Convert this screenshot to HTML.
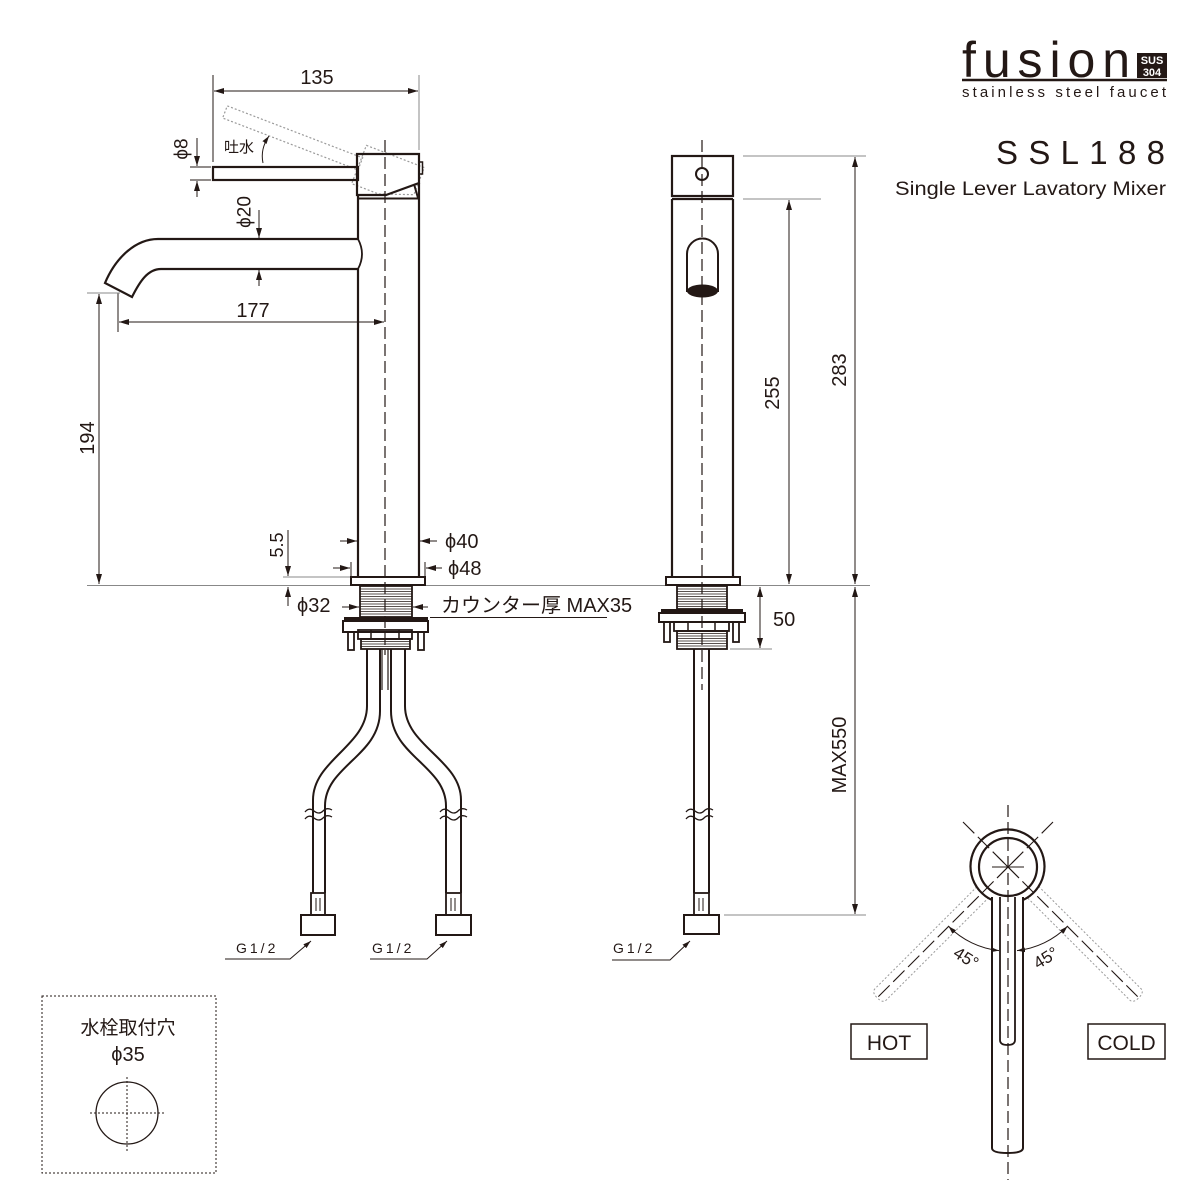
<!DOCTYPE html>
<html><head><meta charset="utf-8"><style>
html,body{margin:0;padding:0;background:#fff;}
svg{display:block;}
text{font-family:"Liberation Sans","Noto Sans CJK JP",sans-serif;fill:#231815;}
</style></head><body>
<svg width="1200" height="1200" viewBox="0 0 1200 1200" xmlns="http://www.w3.org/2000/svg">
<defs>
<marker id="ar" viewBox="0 0 10 6" refX="10" refY="3" markerWidth="10" markerHeight="6" markerUnits="userSpaceOnUse" orient="auto-start-reverse"><path d="M0,0 L10,3 L0,6 z" fill="#231815"/></marker>
<marker id="as" viewBox="0 0 8 5" refX="8" refY="2.5" markerWidth="8" markerHeight="5" markerUnits="userSpaceOnUse" orient="auto-start-reverse"><path d="M0,0 L8,2.5 L0,5 z" fill="#231815"/></marker>
</defs>
<rect width="1200" height="1200" fill="#fff"/>

<!-- ===== LOGO ===== -->
<text x="962" y="77" font-size="50" textLength="168" lengthAdjust="spacing">fusion</text>
<line x1="962" y1="80" x2="1167" y2="80" stroke="#231815" stroke-width="2.5"/>
<rect x="1137" y="53" width="30" height="25" fill="#231815"/>
<text x="1152" y="64" font-size="11" font-weight="bold" text-anchor="middle" style="fill:#fff">SUS</text>
<text x="1152" y="76" font-size="11" font-weight="bold" text-anchor="middle" style="fill:#fff">304</text>
<text x="962" y="97" font-size="15" textLength="204" lengthAdjust="spacing">stainless steel faucet</text>
<text x="996" y="164" font-size="33" textLength="169" lengthAdjust="spacing">SSL188</text>
<text x="895" y="195" font-size="19.5" textLength="271" lengthAdjust="spacingAndGlyphs">Single Lever Lavatory Mixer</text>

<!-- counter line -->
<line x1="87" y1="585.5" x2="870" y2="585.5" stroke="#888" stroke-width="1"/>

<!-- ===== LEFT SIDE VIEW ===== -->
<g fill="none" stroke="#231815">
  <g transform="rotate(21 385 175)" stroke="#9a9a9a" stroke-width="1.2" stroke-dasharray="2 2">
    <rect x="213" y="167" width="145" height="13"/>
    <path d="M357,154 H419 V183 L386,195 H357 Z"/>
  </g>
  <line x1="385" y1="140" x2="385" y2="655" stroke-width="1.2" stroke-dasharray="12 5"/>
  <rect x="213" y="167" width="145" height="13" stroke-width="2.2"/>
  <path d="M357,154 H419 V183 L386,195 H357 Z" stroke-width="2.2"/>
  <line x1="414" y1="184" x2="418" y2="198" stroke-width="2"/>
  <rect x="419" y="162" width="3.5" height="12" stroke-width="1.5"/>
  <line x1="357" y1="198.5" x2="419" y2="198.5" stroke-width="2"/>
  <line x1="358" y1="196" x2="358" y2="239" stroke-width="2.2"/>
  <line x1="358" y1="269" x2="358" y2="577" stroke-width="2.2"/>
  <line x1="419" y1="183" x2="419" y2="577" stroke-width="2.2"/>
  <path d="M358,239 H158 C136,239 116,257 105,283 L132,297 C140,281 148,269 161,269 H358" stroke-width="2.2"/>
  <path d="M358,239 Q366,254 358,269" stroke-width="1.8"/>
  <rect x="351" y="577" width="74" height="8" stroke-width="2"/>
  <rect x="360" y="586" width="52" height="31" stroke-width="1.8"/>
  <path d="M360,589H412M360,591.5H412M360,594H412M360,596.5H412M360,599H412M360,601.5H412M360,604H412M360,606.5H412M360,609H412M360,611.5H412M360,614H412" stroke-width="0.8"/>
  <rect x="343" y="621" width="85" height="11" stroke-width="2"/>
  <rect x="348" y="632" width="6" height="18" stroke-width="1.8"/>
  <rect x="418" y="632" width="6" height="18" stroke-width="1.8"/>
  <rect x="358" y="630" width="54" height="9" stroke-width="1.8"/>
  <path d="M371,630V639M399,630V639" stroke-width="1.5"/>
  <rect x="361" y="639" width="49" height="10" stroke-width="1.8"/>
  <path d="M361,641.5H410M361,644H410M361,646.5H410" stroke-width="0.8"/>
  <path d="M367,649 V706 C367,746 313,760 313,800 V893" stroke-width="2"/>
  <path d="M380,649 V711 C380,756 325,766 325,806 V893" stroke-width="2"/>
  <path d="M391,649 V711 C391,756 446,766 446,806 V893" stroke-width="2"/>
  <path d="M405,649 V706 C405,746 461,760 461,800 V893" stroke-width="2"/>
  <path d="M382,649 V690 M388,649 V690" stroke-width="1.2"/>
  <path d="M305,812 q4,-5 9,-1 t9,0 t9,-1 M305,819 q4,-5 9,-1 t9,0 t9,-1" stroke-width="1.3"/>
  <path d="M440,812 q4,-5 9,-1 t9,0 t9,-1 M440,819 q4,-5 9,-1 t9,0 t9,-1" stroke-width="1.3"/>
  <rect x="311" y="893" width="14" height="22" stroke-width="1.8"/>
  <path d="M316,898V911M320,898V911" stroke-width="1"/>
  <rect x="301" y="915" width="34" height="20" stroke-width="2"/>
  <rect x="446" y="893" width="15" height="22" stroke-width="1.8"/>
  <path d="M451,898V911M455,898V911" stroke-width="1"/>
  <rect x="436" y="915" width="35" height="20" stroke-width="2"/>
</g>
<rect x="344" y="617" width="84" height="4" fill="#231815"/>

<g fill="none" stroke="#231815" stroke-width="1">
  <line x1="213" y1="75" x2="213" y2="162"/>
  <line x1="419" y1="75" x2="419" y2="150" stroke="#888"/>
  <line x1="214" y1="91" x2="418" y2="91" marker-start="url(#ar)" marker-end="url(#ar)"/>
  <line x1="190" y1="167" x2="211" y2="167"/>
  <line x1="190" y1="180" x2="211" y2="180"/>
  <line x1="197" y1="138" x2="197" y2="166" marker-end="url(#ar)"/>
  <line x1="197" y1="181" x2="197" y2="197" marker-start="url(#ar)"/>
  <path d="M263,163 Q260,149 269,136" marker-end="url(#as)"/>
  <line x1="259" y1="210" x2="259" y2="238" marker-end="url(#ar)"/>
  <line x1="259" y1="270" x2="259" y2="286" marker-start="url(#ar)"/>
  <line x1="118" y1="293" x2="118" y2="332"/>
  <line x1="119" y1="322" x2="384" y2="322" marker-start="url(#ar)" marker-end="url(#ar)"/>
  <line x1="87" y1="293" x2="120" y2="293" stroke="#888"/>
  <line x1="99" y1="294" x2="99" y2="584" marker-start="url(#ar)" marker-end="url(#ar)"/>
  <line x1="283" y1="577" x2="350" y2="577" stroke="#888"/>
  <line x1="288" y1="530" x2="288" y2="576" marker-end="url(#ar)"/>
  <line x1="288" y1="587" x2="288" y2="606" marker-start="url(#ar)"/>
  <line x1="340" y1="541" x2="357" y2="541" marker-end="url(#ar)"/>
  <line x1="437" y1="541" x2="420" y2="541" marker-end="url(#ar)"/>
  <line x1="351" y1="562" x2="351" y2="577"/>
  <line x1="425" y1="562" x2="425" y2="577"/>
  <line x1="333" y1="568" x2="350" y2="568" marker-end="url(#ar)"/>
  <line x1="442" y1="568" x2="426" y2="568" marker-end="url(#ar)"/>
  <line x1="342" y1="607" x2="359" y2="607" marker-end="url(#ar)"/>
  <line x1="428" y1="607" x2="413" y2="607" marker-end="url(#ar)"/>
  <line x1="430" y1="617.5" x2="607" y2="617.5"/>
  <path d="M225,959 H290 L311,941" marker-end="url(#as)"/>
  <path d="M370,959 H427 L447,941" marker-end="url(#as)"/>
  <path d="M612,960 H670 L690,941" marker-end="url(#as)"/>
</g>

<text x="317" y="84" font-size="20" text-anchor="middle">135</text>
<text transform="translate(182 149) rotate(-90)" font-size="19" text-anchor="middle" dominant-baseline="central">ϕ8</text>
<text x="224" y="152" font-size="15">吐水</text>
<text transform="translate(245 212) rotate(-90)" font-size="19" text-anchor="middle" dominant-baseline="central">ϕ20</text>
<text x="253" y="317" font-size="20" text-anchor="middle">177</text>
<text transform="translate(88 438) rotate(-90)" font-size="20" text-anchor="middle" dominant-baseline="central">194</text>
<text transform="translate(277 545) rotate(-90)" font-size="18" text-anchor="middle" dominant-baseline="central">5.5</text>
<text x="445" y="548" font-size="20">ϕ40</text>
<text x="448" y="575" font-size="20">ϕ48</text>
<text x="297" y="612" font-size="20">ϕ32</text>
<text x="441" y="612" font-size="20">カウンター厚 MAX35</text>
<text x="236" y="953" font-size="14" letter-spacing="3">G1/2</text>
<text x="372" y="953" font-size="14" letter-spacing="3">G1/2</text>
<text x="613" y="953" font-size="14" letter-spacing="3">G1/2</text>

<!-- ===== FRONT VIEW ===== -->
<g fill="none" stroke="#231815">
  <line x1="702" y1="140" x2="702" y2="690" stroke-width="1.2" stroke-dasharray="12 5"/>
  <rect x="672" y="156" width="61" height="40" stroke-width="2.2"/>
  <circle cx="702" cy="174" r="6" stroke-width="2"/>
  <path d="M672,199 H733 M672,199 V577 M733,199 V577" stroke-width="2.2"/>
  <path d="M687,292 V254 A15.5,15.5 0 0 1 718,254 V292" stroke-width="2"/>
  <rect x="666" y="577" width="74" height="8" stroke-width="2"/>
  <rect x="677" y="586" width="50" height="23" stroke-width="1.8"/>
  <path d="M677,589H727M677,591.5H727M677,594H727M677,596.5H727M677,599H727M677,601.5H727M677,604H727M677,606.5H727" stroke-width="0.8"/>
  <rect x="659" y="613" width="86" height="9" stroke-width="2"/>
  <rect x="664" y="622" width="6" height="20" stroke-width="1.8"/>
  <rect x="733" y="622" width="6" height="20" stroke-width="1.8"/>
  <rect x="674" y="622" width="55" height="9" stroke-width="1.8"/>
  <path d="M688,622V631M715,622V631" stroke-width="1.5"/>
  <rect x="677" y="631" width="50" height="18" stroke-width="1.8"/>
  <path d="M677,633.5H727M677,636H727M677,638.5H727M677,641H727M677,643.5H727M677,646H727" stroke-width="0.8"/>
  <path d="M694,649 V893 M709,649 V893" stroke-width="2"/>
  <path d="M686,812 q4,-5 9,-1 t9,0 t9,-1 M686,819 q4,-5 9,-1 t9,0 t9,-1" stroke-width="1.3"/>
  <rect x="694" y="893" width="15" height="22" stroke-width="1.8"/>
  <path d="M699,898V911M703,898V911" stroke-width="1"/>
  <rect x="684" y="915" width="35" height="19" stroke-width="2"/>
</g>
<ellipse cx="702.5" cy="291" rx="15.5" ry="6.5" fill="#231815"/>
<rect x="661" y="609" width="82" height="4" fill="#231815"/>

<g fill="none" stroke="#231815" stroke-width="1">
  <line x1="743" y1="156" x2="866" y2="156" stroke="#888"/>
  <line x1="855" y1="157" x2="855" y2="584" marker-start="url(#ar)" marker-end="url(#ar)"/>
  <line x1="743" y1="199" x2="821" y2="199" stroke="#888"/>
  <line x1="789" y1="200" x2="789" y2="584" marker-start="url(#ar)" marker-end="url(#ar)"/>
  <line x1="730" y1="649" x2="772" y2="649" stroke="#888"/>
  <line x1="760" y1="587" x2="760" y2="648" marker-start="url(#ar)" marker-end="url(#ar)"/>
  <line x1="855" y1="587" x2="855" y2="914" marker-start="url(#ar)" marker-end="url(#ar)"/>
  <line x1="724" y1="915" x2="866" y2="915" stroke="#888"/>
</g>
<text transform="translate(840 370) rotate(-90)" font-size="20" text-anchor="middle" dominant-baseline="central">283</text>
<text transform="translate(773 393) rotate(-90)" font-size="20" text-anchor="middle" dominant-baseline="central">255</text>
<text x="773" y="626" font-size="20">50</text>
<text transform="translate(840 755) rotate(-90)" font-size="20" text-anchor="middle" dominant-baseline="central">MAX550</text>

<!-- ===== TOP VIEW ===== -->
<g fill="none" stroke="#231815">
  <g stroke="#9a9a9a" stroke-width="1" stroke-dasharray="2 2">
    <path transform="rotate(45 1008 867)" d="M1000,903 V1047 Q1000,1052 1008,1052 Q1016,1052 1016,1047 V903"/>
    <path transform="rotate(-45 1008 867)" d="M1000,903 V1047 Q1000,1052 1008,1052 Q1016,1052 1016,1047 V903"/>
  </g>
  <line x1="1008" y1="805" x2="1008" y2="1180" stroke-width="1.2" stroke-dasharray="12 5"/>
  <line x1="963" y1="822" x2="1140" y2="999" stroke-width="1.1" stroke-dasharray="16 5"/>
  <line x1="1053" y1="822" x2="876" y2="999" stroke-width="1.1" stroke-dasharray="16 5"/>
  <path d="M992,867 H1024 M997,856 L1019,878 M1019,856 L997,878" stroke-width="1"/>
  <path d="M992,900 A37,37 0 1 1 1023,900" stroke-width="2.2"/>
  <circle cx="1008" cy="867" r="29" stroke-width="2.2"/>
  <path d="M992,897 V1148 Q992,1153 1007.5,1153 Q1023,1153 1023,1148 V897" stroke-width="2"/>
  <path d="M1000,897 V1040 Q1000,1045 1007.5,1045 Q1015,1045 1015,1040 V897" stroke-width="1.8"/>
  <path d="M999,950.6 A84,84 0 0 1 948.6,926.4" stroke-width="1" marker-start="url(#as)" marker-end="url(#as)"/>
  <path d="M1017,950.6 A84,84 0 0 0 1067.4,926.4" stroke-width="1" marker-start="url(#as)" marker-end="url(#as)"/>
  <rect x="851" y="1024" width="76" height="35" stroke-width="1.5"/>
  <rect x="1088" y="1024" width="77" height="35" stroke-width="1.5"/>
</g>
<text transform="translate(966 958) rotate(32)" font-size="17" text-anchor="middle" dominant-baseline="central">45°</text>
<text transform="translate(1046 958) rotate(-32)" font-size="17" text-anchor="middle" dominant-baseline="central">45°</text>
<text x="889" y="1050" font-size="21" text-anchor="middle">HOT</text>
<text x="1126.5" y="1050" font-size="21" text-anchor="middle">COLD</text>

<!-- ===== HOLE BOX ===== -->
<g fill="none" stroke="#231815">
  <rect x="42" y="996" width="174" height="177" stroke-width="1" stroke-dasharray="2 2"/>
  <circle cx="127" cy="1113" r="31" stroke-width="1.3"/>
  <line x1="90" y1="1113" x2="165" y2="1113" stroke-width="1" stroke-dasharray="2 2"/>
  <line x1="127" y1="1077" x2="127" y2="1151" stroke-width="1" stroke-dasharray="2 2"/>
</g>
<text x="128" y="1034" font-size="19" text-anchor="middle">水栓取付穴</text>
<text x="128" y="1061" font-size="20" text-anchor="middle">ϕ35</text>
</svg>
</body></html>
